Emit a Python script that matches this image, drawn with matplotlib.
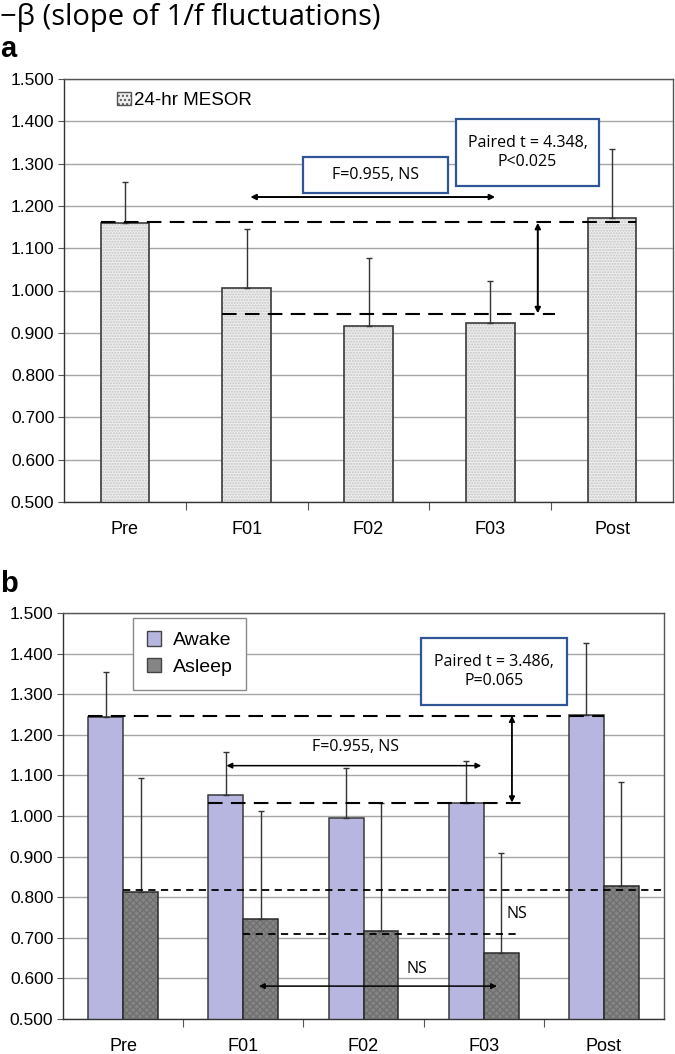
import matplotlib
matplotlib.use("Agg")
import matplotlib.pyplot as plt
from matplotlib.patches import Patch, Rectangle
import numpy as np

# ---------------- data ----------------
categories = ["Pre", "F01", "F02", "F03", "Post"]
mesor = [1.159, 1.005, 0.917, 0.922, 1.171]
mesor_err = [0.098, 0.140, 0.160, 0.100, 0.164]
awake = [1.245, 1.052, 0.995, 1.032, 1.249]
awake_err = [0.110, 0.106, 0.123, 0.103, 0.177]
asleep = [0.812, 0.746, 0.717, 0.663, 0.828]
asleep_err = [0.282, 0.266, 0.315, 0.246, 0.256]
yticks = [0.5, 0.6, 0.7, 0.8, 0.9, 1.0, 1.1, 1.2, 1.3, 1.4, 1.5]

title_text = "\u2212\u03b2 (slope of 1/f fluctuations)"
box_font = ["Open Sans", "DejaVu Sans"]
tick_font = ["Liberation Sans", "DejaVu Sans"]
BOX_BLUE = "#2f5597"

fig = plt.figure(figsize=(6.75, 10.54), dpi=100)

ax_a = fig.add_axes([64 / 675, 1 - 502 / 1054, 609 / 675, 423 / 1054])
ax_b = fig.add_axes([63 / 675, 1 - 1019 / 1054, 601 / 675, 406 / 1054])

x = np.arange(len(categories))


def style_axes(ax):
    ax.set_xlim(-0.5, 4.5)
    ax.set_ylim(0.5, 1.5)
    ax.set_yticks(yticks)
    ax.set_yticklabels([f"{v:.3f}" for v in yticks], fontsize=12.5, family=tick_font)
    ax.yaxis.grid(True, color="#a6a6a6", lw=1.0)
    ax.set_axisbelow(True)
    ax.set_xticks([0.5, 1.5, 2.5, 3.5])
    ax.set_xticklabels([])
    ax.tick_params(axis="x", which="major", direction="out", length=6, color="#555555")
    ax.set_xticks(x, minor=True)
    ax.set_xticklabels(categories, minor=True, fontsize=13, family=tick_font)
    ax.tick_params(axis="x", which="minor", length=0, pad=14)
    ax.tick_params(axis="y", direction="out", length=4, color="#555555", pad=3)
    for s in ax.spines.values():
        s.set_color("#555555")
        s.set_linewidth(1.0)
    ax.spines["left"].set_color("#333333")
    ax.spines["bottom"].set_color("#333333")


def dbl_arrow(ax, x0, y0, x1, y1, lw=1.3):
    ax.annotate("", xy=(x1, y1), xytext=(x0, y0),
                arrowprops=dict(arrowstyle="<|-|>", color="black", lw=lw,
                                mutation_scale=8, shrinkA=0, shrinkB=0), zorder=6)


def text_box(ax, x0, x1, y0, y1, text):
    ax.add_patch(Rectangle((x0, y0), x1 - x0, y1 - y0, facecolor="white",
                           edgecolor=BOX_BLUE, lw=1.6, zorder=7))
    ax.text((x0 + x1) / 2, (y0 + y1) / 2, text, ha="center", va="center",
            fontsize=11.5, family=box_font, linespacing=1.25, zorder=8)


# ---------------- panel a ----------------
style_axes(ax_a)
w_a = 0.4
ax_a.bar(x, mesor, width=w_a, bottom=0, color="#eeeeee", hatch="......",
         edgecolor="#c4c4c4", lw=0, zorder=2)
ax_a.bar(x, mesor, width=w_a, fill=False, edgecolor="#3a3a3a", lw=1.2, zorder=3)
ax_a.errorbar(x, mesor, yerr=[np.zeros(len(x)), mesor_err], fmt="none",
              ecolor="#333333", elinewidth=1.0, capsize=2.5, capthick=1.0, zorder=4)

ax_a.legend(handles=[Patch(facecolor="#eeeeee", edgecolor="#555555", hatch="....",
                           label="24-hr MESOR")],
            loc="center left", bbox_to_anchor=(0.06, 0.95), frameon=False,
            handlelength=0.7, handleheight=0.7, handletextpad=0.2,
            prop=dict(family=tick_font, size=13.5))

ax_a.plot([-0.2, 4.2], [1.162, 1.162], color="black", lw=1.5, dashes=(7, 4), zorder=5)
ax_a.plot([0.8, 3.53], [0.944, 0.944], color="black", lw=1.5, dashes=(7, 4), zorder=5)
dbl_arrow(ax_a, 1.03, 1.221, 3.04, 1.221, lw=1.4)
dbl_arrow(ax_a, 3.39, 1.160, 3.39, 0.946, lw=1.4)

text_box(ax_a, 1.462, 2.653, 1.230, 1.316, "F=0.955, NS")
text_box(ax_a, 2.718, 3.892, 1.247, 1.405, "Paired t = 4.348,\nP<0.025")

# ---------------- panel b ----------------
style_axes(ax_b)
w_b = 0.29
ax_b.bar(x - w_b / 2, awake, width=w_b, color="#b6b6e0", edgecolor="#3a3a3a", lw=1.1, zorder=2)
ax_b.bar(x + w_b / 2, asleep, width=w_b, color="#858585", hatch="xxxxx",
         edgecolor="#707070", lw=0, zorder=2)
ax_b.bar(x + w_b / 2, asleep, width=w_b, fill=False, edgecolor="#2a2a2a", lw=1.1, zorder=3)
ax_b.errorbar(x - w_b / 2, awake, yerr=[np.zeros(len(x)), awake_err], fmt="none",
              ecolor="#333333", elinewidth=1.0, capsize=2.5, capthick=1.0, zorder=4)
ax_b.errorbar(x + w_b / 2, asleep, yerr=[np.zeros(len(x)), asleep_err], fmt="none",
              ecolor="#333333", elinewidth=1.0, capsize=2.5, capthick=1.0, zorder=4)

leg_b = ax_b.legend(handles=[Patch(facecolor="#b6b6e0", edgecolor="#444444", label="Awake"),
                             Patch(facecolor="#858585", edgecolor="#444444", label="Asleep")],
                    loc="upper left", bbox_to_anchor=(0.1165, 0.988), frameon=True,
                    fancybox=False, edgecolor="#8a8a8a", framealpha=1,
                    handlelength=0.75, handleheight=0.75, handletextpad=0.6,
                    borderpad=0.7, labelspacing=0.45, borderaxespad=0,
                    prop=dict(family=tick_font, size=14))
leg_b.get_frame().set_linewidth(1.0)

ax_b.plot([-0.29, 4.0], [1.247, 1.247], color="black", lw=1.5, dashes=(7, 4), zorder=5)
ax_b.plot([0.71, 3.36], [1.031, 1.031], color="black", lw=1.5, dashes=(7, 4), zorder=5)
ax_b.plot([0.0, 4.5], [0.818, 0.818], color="black", lw=1.3, dashes=(4, 3), zorder=5)
ax_b.plot([1.0, 3.3], [0.709, 0.709], color="black", lw=1.3, dashes=(4, 3), zorder=5)
dbl_arrow(ax_b, 3.235, 1.247, 3.235, 1.033)
dbl_arrow(ax_b, 0.86, 1.124, 2.98, 1.124, lw=1.1)
dbl_arrow(ax_b, 1.13, 0.581, 3.11, 0.581, lw=1.1)

ax_b.text(1.57, 1.170, "F=0.955, NS", ha="left", va="center", fontsize=11.5,
          family=box_font, zorder=7)
ax_b.text(3.28, 0.759, "NS", ha="center", va="center", fontsize=11.5, family=box_font, zorder=7)
ax_b.text(2.44, 0.623, "NS", ha="center", va="center", fontsize=11.5, family=box_font, zorder=7)
text_box(ax_b, 2.478, 3.693, 1.273, 1.438, "Paired t = 3.486,\nP=0.065")

# ---------------- titles ----------------
fig.text(0.0, 1 - 18 / 1054, title_text, ha="left", va="center", fontsize=21,
         family=["Open Sans", "DejaVu Sans"])
fig.text(0.0, 1 - 49 / 1054, "a", ha="left", va="center", fontsize=21, fontweight="bold",
         family=tick_font)
fig.text(0.0, 1 - 584 / 1054, "b", ha="left", va="center", fontsize=21, fontweight="bold",
         family=tick_font)

fig.savefig("out.png", dpi=100)
